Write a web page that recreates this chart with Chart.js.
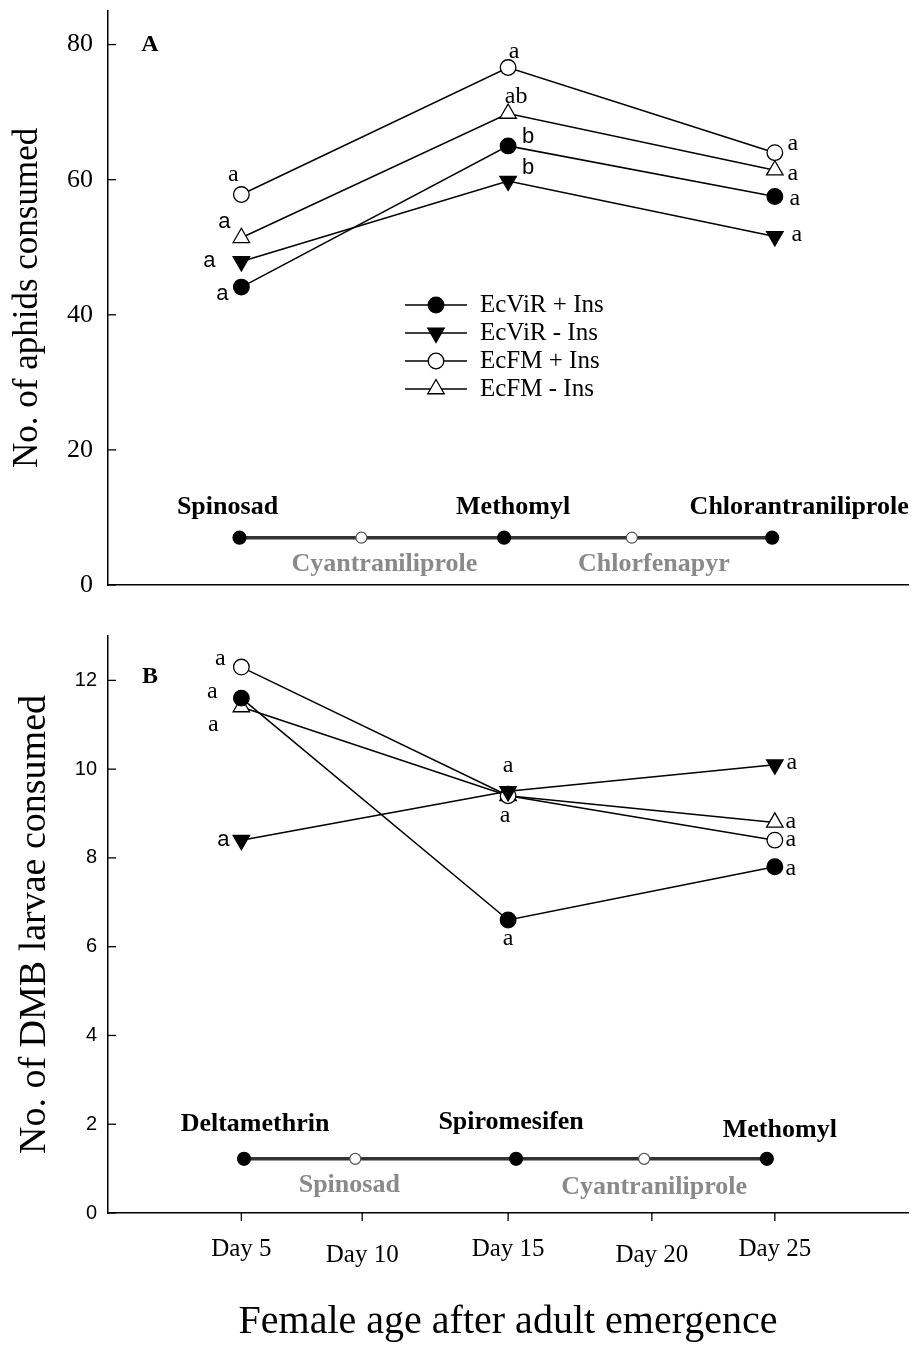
<!DOCTYPE html>
<html>
<head>
<meta charset="utf-8">
<script src="https://cdn.jsdelivr.net/npm/chart.js@4.4.1/dist/chart.umd.min.js"></script>
<style>
  html, body { margin: 0; padding: 0; background: #fff; }
  #wrap { position: relative; width: 919px; height: 1348px; }
  canvas { position: absolute; left: 0; }
</style>
</head>
<body>
<div id="wrap">
  <canvas id="chartA" width="919" height="600" style="top:0px"></canvas>
  <canvas id="chartB" width="919" height="748" style="top:600px"></canvas>
</div>
<script>
// ---- data ----
const days = [5, 15, 25];
const seriesNames = ["EcViR + Ins", "EcViR - Ins", "EcFM + Ins", "EcFM - Ins"];

// panel A: aphids consumed
const aphidViRIns = [44.1, 65.0, 57.5];
const aphidViRNoIns = [47.9, 59.8, 51.6];
const aphidFMIns = [57.8, 76.6, 64.0];
const aphidFMNoIns = [51.4, 69.8, 61.4];
const aphidLetters = [["a", "b", "a"], ["a", "b", "a"], ["a", "a", "a"], ["a", "ab", "a"]];

// panel B: DMB larvae consumed
const larvaViRIns = [11.6, 6.6, 7.8];
const larvaViRNoIns = [8.4, 9.5, 10.1];
const larvaFMIns = [12.3, 9.4, 8.4];
const larvaFMNoIns = [11.4, 9.4, 8.8];
const larvaLetters = [["a", "a", "a"], ["a", "a", "a"], ["a", "", "a"], ["a", "a", "a"]];

// insecticide schedule lines
const insA = ["Spinosad", "Cyantraniliprole", "Methomyl", "Chlorfenapyr", "Chlorantraniliprole"];
const insAx = [4.93, 9.5, 14.85, 19.64, 24.9];
const insAy = 7.0;
const insB = ["Deltamethrin", "Spinosad", "Spiromesifen", "Cyantraniliprole", "Methomyl"];
const insBx = [5.1, 9.27, 15.3, 20.1, 24.7];
const insBy = 1.22;

const dayTickVals = [5, 9.53, 15, 20.39, 25];
const dayTickLabels = ["Day 5", "Day 10", "Day 15", "Day 20", "Day 25"];

// ---- styles ----
const SERIF = "'Liberation Serif', 'Times New Roman', serif";
const SANS = "'Liberation Sans', Arial, sans-serif";
const markers = [
  { style: "circle", rot: 0, r: 7.8, fill: "#000" },
  { style: "triangle", rot: 180, r: 9.5, fill: "#000" },
  { style: "circle", rot: 0, r: 7.8, fill: "#fff" },
  { style: "triangle", rot: 0, r: 9.5, fill: "#fff" }
];

// letter placement (dx, dy from point) and font (1 = sans)
const aphidLetterPos = [
  [[-19, 7, 1], [20, -9, 1], [20, 2, 0]],
  [[-32, 0, 1], [20, -13, 1], [22, -2, 0]],
  [[-8, -20, 0], [6, -16, 0], [18, -9, 0]],
  [[-17, -16, 1], [8, -17, 0], [18, 3, 0]]
];
const larvaLetterPos = [
  [[-29, -6, 0], [0, 19, 0], [16, 2, 0]],
  [[-18, 0, 1], [0, -26, 0], [17, -2, 0]],
  [[-21, -8, 0], [0, 0, 0], [16, 0, 0]],
  [[-28, 18, 0], [-3, 20, 0], [16, -1, 0]]
];
const insAOffsets = [[-12, -30], [23, 27], [9, -30], [22, 27], [27, -30]];
const insBOffsets = [[11, -35], [-6, 26], [-5, -37], [10, 28], [13, -29]];

function seriesSets(vals) {
  return vals.map((v, i) => ({
    label: seriesNames[i],
    data: days.map((d, j) => ({ x: d, y: v[j] })),
    borderColor: "#000",
    borderWidth: 1.5,
    pointStyle: markers[i].style,
    rotation: markers[i].rot,
    pointRadius: markers[i].r,
    pointBackgroundColor: markers[i].fill,
    pointBorderColor: "#000",
    pointBorderWidth: 1.3
  }));
}

function insSet(xs, y) {
  return {
    label: "ins",
    data: xs.map(x => ({ x: x, y: y })),
    borderColor: "#333",
    borderWidth: 3.5,
    pointStyle: "circle",
    pointRadius: xs.map((x, i) => (i % 2 ? 5.5 : 6.5)),
    pointBackgroundColor: xs.map((x, i) => (i % 2 ? "#fff" : "#000")),
    pointBorderColor: xs.map((x, i) => (i % 2 ? "#555" : "#000")),
    pointBorderWidth: 1.2
  };
}

function drawMarker(ctx, m, x, y) {
  ctx.save();
  ctx.fillStyle = m.fill;
  ctx.strokeStyle = "#000";
  ctx.lineWidth = 1.3;
  ctx.beginPath();
  if (m.style === "circle") {
    ctx.arc(x, y, m.r, 0, Math.PI * 2);
  } else {
    const s = m.rot ? -1 : 1;
    const r = m.r;
    ctx.moveTo(x, y - s * r);
    ctx.lineTo(x + r * 0.866, y + s * r * 0.5);
    ctx.lineTo(x - r * 0.866, y + s * r * 0.5);
    ctx.closePath();
  }
  ctx.fill();
  ctx.stroke();
  ctx.restore();
}

function panelPlugin(cfg) {
  return {
    id: "panel",
    afterDatasetsDraw(chart) {
      const ctx = chart.ctx;
      const xs = chart.scales.x, ys = chart.scales.y;
      const area = chart.chartArea;
      ctx.save();
      ctx.fillStyle = "#000";
      ctx.strokeStyle = "#000";
      ctx.lineWidth = 1.3;

      // inward y ticks
      ys.ticks.forEach(t => {
        const py = ys.getPixelForValue(t.value);
        ctx.beginPath();
        ctx.moveTo(area.left, py);
        ctx.lineTo(area.left + 8, py);
        ctx.stroke();
      });

      // significance letters
      ctx.textAlign = "center";
      ctx.textBaseline = "middle";
      cfg.letters.forEach((row, i) => {
        row.forEach((txt, j) => {
          if (!txt) return;
          const p = cfg.letterPos[i][j];
          ctx.font = p[2] ? "22px " + SANS : "24px " + SERIF;
          const px = xs.getPixelForValue(days[j]);
          const py = ys.getPixelForValue(cfg.values[i][j]);
          ctx.fillText(txt, px + p[0], py + p[1]);
        });
      });

      // insecticide labels
      cfg.ins.forEach((name, k) => {
        const px = xs.getPixelForValue(cfg.insX[k]);
        const py = ys.getPixelForValue(cfg.insY);
        const off = cfg.insOff[k];
        ctx.font = "bold 26px " + SERIF;
        ctx.fillStyle = k % 2 ? "#8a8a8a" : "#000";
        ctx.fillText(name, px + off[0], py + off[1]);
      });
      ctx.fillStyle = "#000";

      // panel letter
      ctx.font = "bold 24px " + SERIF;
      ctx.fillText(cfg.panel, 150, cfg.panelY);

      // y title
      ctx.save();
      ctx.translate(cfg.yTitleX, (area.top + area.bottom) / 2);
      ctx.rotate(-Math.PI / 2);
      ctx.font = cfg.yTitleSize + "px " + SERIF;
      ctx.fillText(cfg.yTitle, 0, 0);
      ctx.restore();

      if (cfg.legend) {
        ctx.font = "25px " + SERIF;
        ctx.textAlign = "left";
        seriesNames.forEach((n, i) => {
          const ly = 305 + i * 28;
          ctx.lineWidth = 1.5;
          ctx.beginPath();
          ctx.moveTo(405, ly);
          ctx.lineTo(467, ly);
          ctx.stroke();
          drawMarker(ctx, markers[i], 436, ly);
          ctx.fillText(n, 480, ly);
        });
      }

      if (cfg.dayAxis) {
        ctx.lineWidth = 1.3;
        ctx.font = "25px " + SERIF;
        ctx.textAlign = "center";
        dayTickVals.forEach((v, k) => {
          const px = xs.getPixelForValue(v);
          ctx.beginPath();
          ctx.moveTo(px, area.bottom);
          ctx.lineTo(px, area.bottom + 8);
          ctx.stroke();
          ctx.fillText(dayTickLabels[k], px, area.bottom + (k % 2 ? 42 : 36));
        });
        ctx.font = "40px " + SERIF;
        ctx.fillText("Female age after adult emergence", (area.left + area.right) / 2, 722);
      }
      ctx.restore();
    }
  };
}

function makeChart(id, cfg) {
  const ctx = document.getElementById(id).getContext("2d");
  return new Chart(ctx, {
    type: "line",
    data: {
      datasets: [insSet(cfg.insX, cfg.insY)].concat(seriesSets(cfg.values))
    },
    options: {
      responsive: false,
      animation: false,
      layout: { padding: { top: cfg.padTop, right: 7, left: 0, bottom: 0 } },
      plugins: { legend: { display: false }, tooltip: { enabled: false } },
      scales: {
        x: {
          type: "linear",
          min: 0,
          max: 30,
          ticks: { display: false },
          grid: { display: false },
          border: { color: "#000", width: 1.5 },
          afterFit: s => {
            s.height = cfg.xHeight;
            s.paddingLeft = 0;
            s.paddingRight = 0;
          }
        },
        y: {
          min: 0,
          max: cfg.yMax,
          ticks: {
            stepSize: cfg.step,
            includeBounds: false,
            color: "#000",
            padding: cfg.tickPad,
            font: cfg.tickFont
          },
          grid: { display: false },
          border: { color: "#000", width: 1.5 },
          afterFit: s => {
            s.width = 108;
            s.paddingTop = 0;
            s.paddingBottom = 0;
          }
        }
      }
    },
    plugins: [panelPlugin(cfg)]
  });
}

makeChart("chartA", {
  values: [aphidViRIns, aphidViRNoIns, aphidFMIns, aphidFMNoIns],
  letters: aphidLetters,
  letterPos: aphidLetterPos,
  ins: insA, insX: insAx, insY: insAy, insOff: insAOffsets,
  yMax: 85, step: 20, tickPad: 7,
  tickFont: { family: SERIF, size: 26 },
  padTop: 8, xHeight: 15,
  panel: "A", panelY: 45,
  yTitle: "No. of aphids consumed", yTitleX: 28, yTitleSize: 35,
  legend: true, dayAxis: false
});

makeChart("chartB", {
  values: [larvaViRIns, larvaViRNoIns, larvaFMIns, larvaFMNoIns],
  letters: larvaLetters,
  letterPos: larvaLetterPos,
  ins: insB, insX: insBx, insY: insBy, insOff: insBOffsets,
  yMax: 13, step: 2, tickPad: 3,
  tickFont: { family: SANS, size: 20 },
  padTop: 36, xHeight: 135,
  panel: "B", panelY: 77,
  yTitle: "No. of DMB larvae consumed", yTitleX: 35, yTitleSize: 38,
  legend: false, dayAxis: true
});
</script>
</body>
</html>
